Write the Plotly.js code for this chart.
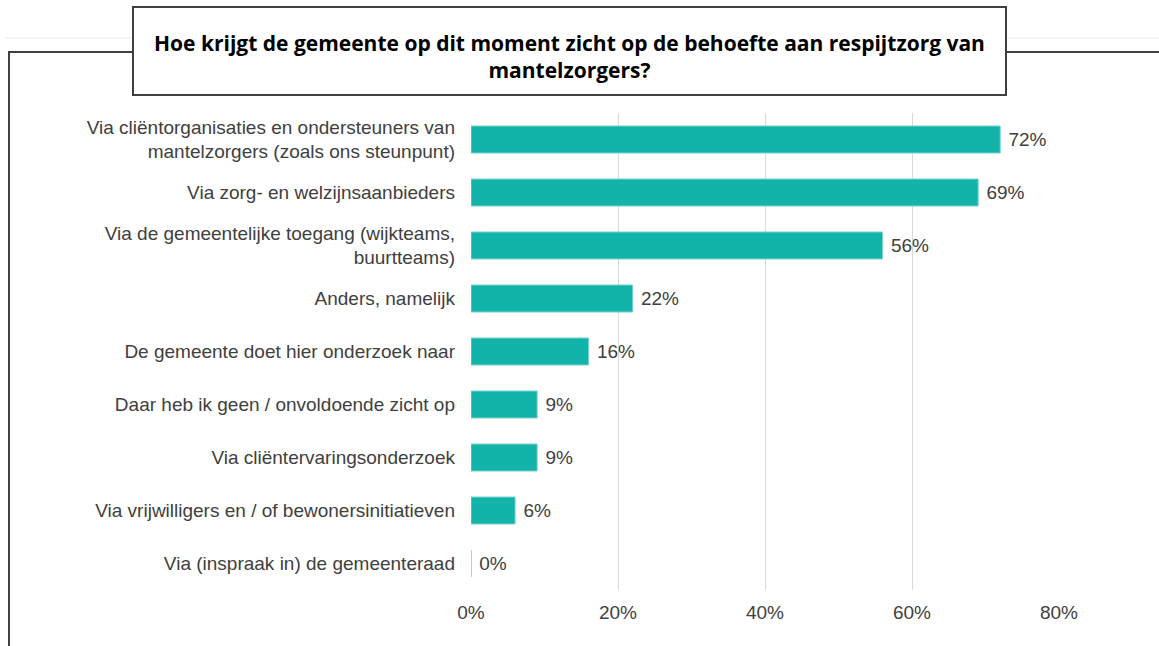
<!DOCTYPE html>
<html>
<head>
<meta charset="utf-8">
<script src="https://cdn.plot.ly/plotly-3.0.1.min.js"></script>
<style>html,body{margin:0;padding:0;background:#fff;}#chart{width:1159px;height:646px;}</style>
</head>
<body>
<div id="chart"></div>
<script>
const titleText = "Hoe krijgt de gemeente op dit moment zicht op de behoefte aan respijtzorg van<br>mantelzorgers?";
const categories = [
  "Via cliëntorganisaties en ondersteuners van<br>mantelzorgers (zoals ons steunpunt)",
  "Via zorg- en welzijnsaanbieders",
  "Via de gemeentelijke toegang (wijkteams,<br>buurtteams)",
  "Anders, namelijk",
  "De gemeente doet hier onderzoek naar",
  "Daar heb ik geen / onvoldoende zicht op",
  "Via cliëntervaringsonderzoek",
  "Via vrijwilligers en / of bewonersinitiatieven",
  "Via (inspraak in) de gemeenteraad"
];
const values = [72, 69, 56, 22, 16, 9, 9, 6, 0];
const tickVals = [0, 20, 40, 60, 80];
const tickText = ["0%", "20%", "40%", "60%", "80%"];

// plot area in pixels: x 471..1059, y 113..590
const PX0 = 471, PW = 588, PY1 = 590, PH = 477;
const px = v => (v - PX0) / PW;
const py = v => (PY1 - v) / PH;

const trace = {
  type: 'bar',
  orientation: 'h',
  y: categories,
  x: values,
  marker: {color: '#12b3a9', line: {color: '#7dd3cd', width: 1}},
  width: 0.51,
  text: values.map(v => '\u00a0' + v + '%'),
  textposition: 'outside',
  textfont: {family: 'Liberation Sans, Arial, sans-serif', size: 19, color: '#404040'},
  cliponaxis: false,
  hoverinfo: 'none'
};

const lineStyle = {color: '#404040', width: 2};
const layout = {
  width: 1159, height: 646,
  margin: {l: PX0, r: 1159 - PX0 - PW, t: 113, b: 646 - PY1, pad: 0},
  paper_bgcolor: '#fff', plot_bgcolor: '#fff',
  showlegend: false,
  font: {family: 'Liberation Sans, Arial, sans-serif', size: 19, color: '#404040'},
  xaxis: {
    range: [0, 80], tickvals: tickVals, ticktext: tickText,
    tickfont: {size: 19},
    showgrid: true, gridcolor: '#d9d9d9', gridwidth: 1,
    zeroline: false, showline: false, ticks: '', ticklabelstandoff: 9,
    fixedrange: true
  },
  yaxis: {
    autorange: 'reversed', showgrid: false, zeroline: false, showline: false,
    ticks: '', ticklabelstandoff: 15, fixedrange: true
  },
  shapes: [
    {type: 'line', xref: 'paper', yref: 'paper', x0: px(5), x1: px(133), y0: py(38), y1: py(38), line: {color: '#ececec', width: 1}},
    {type: 'line', xref: 'paper', yref: 'paper', x0: px(1006), x1: px(1159), y0: py(38), y1: py(38), line: {color: '#ececec', width: 1}},
    {type: 'line', xref: 'paper', yref: 'paper', x0: px(9), x1: px(133), y0: py(52), y1: py(52), line: lineStyle},
    {type: 'line', xref: 'paper', yref: 'paper', x0: px(1006), x1: px(1160), y0: py(52), y1: py(52), line: lineStyle},
    {type: 'line', xref: 'paper', yref: 'paper', x0: px(9), x1: px(9), y0: py(51), y1: py(648), line: lineStyle},
    {type: 'rect', xref: 'paper', yref: 'paper', x0: px(133), x1: px(1006), y0: py(7), y1: py(95), line: lineStyle, fillcolor: '#ffffff'}
  ],
  annotations: [
    {text: '<b>' + titleText + '</b>', xref: 'paper', yref: 'paper', x: px(569.5), y: py(56),
     xanchor: 'center', yanchor: 'middle', showarrow: false, align: 'center',
     font: {family: 'Open Sans, DejaVu Sans, sans-serif', size: 21, color: '#000'}}
  ]
};

Plotly.newPlot('chart', [trace], layout, {displayModeBar: false, staticPlot: true});
</script>
</body>
</html>
